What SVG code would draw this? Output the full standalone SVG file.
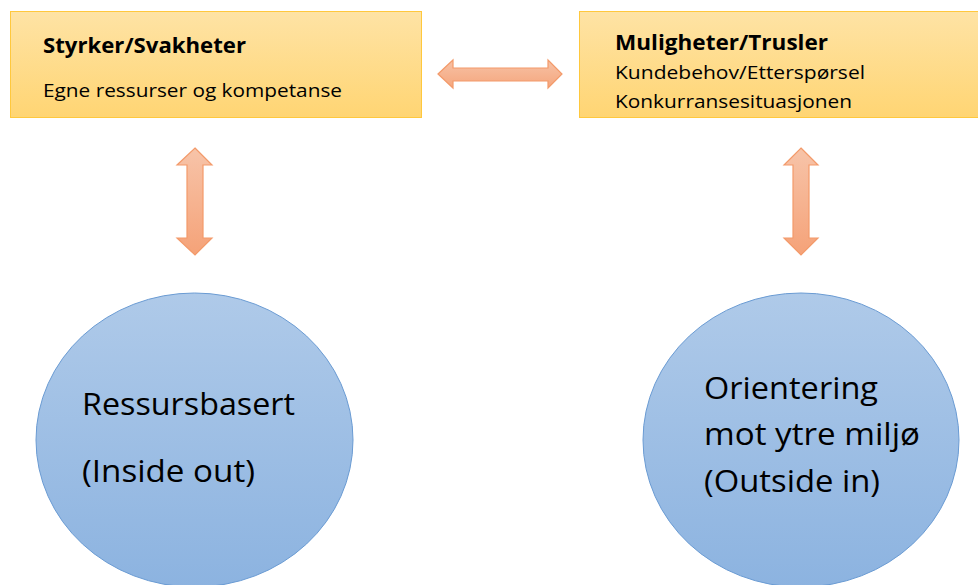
<svg xmlns="http://www.w3.org/2000/svg" width="978" height="585" viewBox="0 0 978 585">
<style>
.box{fill:url(#gBox);stroke:#FFC83D;stroke-width:1}
.circ{fill:url(#gCirc);stroke:#6A9BD3;stroke-width:1}
.arr{fill:url(#gArr);stroke:#F39A6A;stroke-width:1.2}
.arrv{fill:url(#gArrV);stroke:#F39A6A;stroke-width:1.2}
text{font-family:"Open Sans","Noto Sans","Liberation Sans",sans-serif;fill:#000}
.h{font-weight:bold;font-size:21px}
.s{font-size:19px}
.c{font-size:31px}
</style>
<defs>
<linearGradient id="gBox" x1="0" y1="0" x2="0" y2="1"><stop offset="0" stop-color="#FEE3A5"/><stop offset="1" stop-color="#FFD573"/></linearGradient>
<linearGradient id="gCirc" x1="0" y1="0" x2="0" y2="1"><stop offset="0" stop-color="#AFCAE9"/><stop offset="1" stop-color="#8CB3E0"/></linearGradient>
<linearGradient id="gArr" x1="0" y1="0" x2="0" y2="1"><stop offset="0" stop-color="#F7C2A6"/><stop offset="1" stop-color="#F5A67D"/></linearGradient>
<linearGradient id="gArrV" x1="0" y1="0" x2="0" y2="1"><stop offset="0" stop-color="#F7C4A9"/><stop offset="1" stop-color="#F5A278"/></linearGradient>
</defs>
<g id="styrker">
<rect class="box" x="10.5" y="11.5" width="411" height="106"/>
<text class="h" x="43" y="53" textLength="203" lengthAdjust="spacingAndGlyphs">Styrker/Svakheter</text>
<text class="s" x="43" y="97" textLength="299" lengthAdjust="spacingAndGlyphs">Egne ressurser og kompetanse</text>
</g>
<g id="muligheter">
<rect class="box" x="579.5" y="11.5" width="405" height="106"/>
<text class="h" x="615" y="50" textLength="213" lengthAdjust="spacingAndGlyphs">Muligheter/Trusler</text>
<text class="s" x="615" y="79" textLength="250" lengthAdjust="spacingAndGlyphs">Kundebehov/Etterspørsel</text>
<text class="s" x="615" y="108" textLength="237" lengthAdjust="spacingAndGlyphs">Konkurransesituasjonen</text>
</g>
<g id="ressursbasert">
<ellipse class="circ" cx="194.5" cy="440" rx="158.5" ry="147"/>
<text class="c" x="82" y="415" textLength="213" lengthAdjust="spacingAndGlyphs">Ressursbasert</text>
<text class="c" x="82" y="482" textLength="173" lengthAdjust="spacingAndGlyphs">(Inside out)</text>
</g>
<g id="orientering">
<ellipse class="circ" cx="801" cy="440" rx="158" ry="147"/>
<text class="c" x="704" y="399" textLength="174" lengthAdjust="spacingAndGlyphs">Orientering</text>
<text class="c" x="704" y="445" textLength="216" lengthAdjust="spacingAndGlyphs">mot ytre miljø</text>
<text class="c" x="704" y="492" textLength="176" lengthAdjust="spacingAndGlyphs">(Outside in)</text>
</g>
<g id="connectors">
<path class="arr" d="M438,74 L453,60 L453,68 L548,68 L548,60 L562,74 L548,88 L548,81 L453,81 L453,88 Z"/>
<path class="arrv" d="M195,148 L212,165 L203,165 L203,238 L212,238 L195,255 L177,238 L187,238 L187,165 L177,165 Z"/>
<path class="arrv" d="M801,148 L818,165 L809,165 L809,238 L818,238 L801,255 L784,238 L793,238 L793,165 L784,165 Z"/>
</g>
</svg>
